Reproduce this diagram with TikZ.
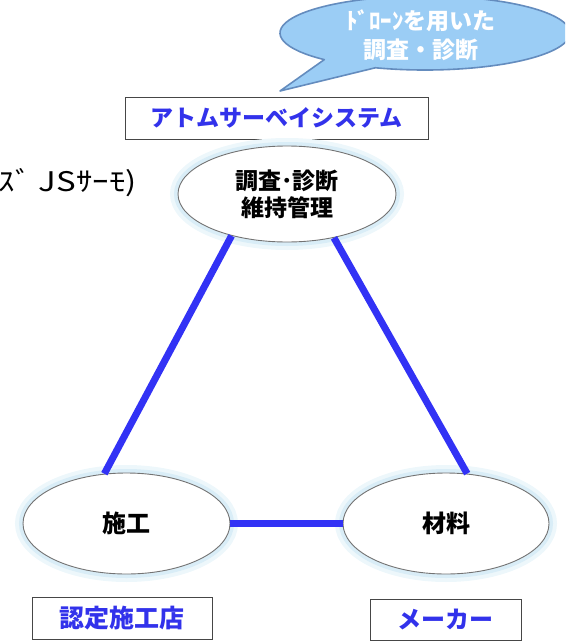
\documentclass[tikz,border=0pt]{standalone}
\usepackage{fontspec}
\newfontfamily\jp{Noto Sans CJK JP}
\newfontfamily\jpwide{Noto Sans CJK JP}[FakeStretch=1.22]
\usetikzlibrary{shapes.geometric}
\definecolor{lineblue}{RGB}{50,50,245}
\definecolor{textblue}{RGB}{50,50,235}
\definecolor{ovalgray}{RGB}{115,115,115}
\definecolor{boxgray}{RGB}{70,70,70}
\definecolor{glow}{RGB}{185,222,240}
\definecolor{bubblefill}{RGB}{155,205,245}
\definecolor{bubbleline}{RGB}{100,140,190}
\begin{document}
\begin{tikzpicture}[x=1pt,y=1pt,
  oval/.style={ellipse, draw=ovalgray, line width=0.9pt, fill=white, inner sep=0pt,
    align=center, font=\jp\bfseries\fontsize{24}{27}\selectfont,
    preaction={draw=glow!25, line width=16pt},
    preaction={draw=glow!55, line width=8pt}},
  tagbox/.style={draw=boxgray, line width=0.9pt, fill=white, inner sep=0pt,
    text=textblue, font=\jp\bfseries\fontsize{24}{28}\selectfont},
  link/.style={draw=lineblue, line width=7pt},
  bubbletext/.style={text=white, align=center, font=\jp\bfseries\fontsize{23}{29}\selectfont}]
\useasboundingbox (0,0) rectangle (565,-642);
\clip (0,0) rectangle (565,-642);

% speech bubble
\coordinate (bA) at ({425+145*cos(226)},{-33+37*sin(226)});
\coordinate (bB) at ({425+145*cos(250)},{-33+37*sin(250)});
\coordinate (btip) at (280,-91);
\draw[fill=bubblefill, draw=bubbleline, line width=1.6pt, line join=round]
  (bA) -- (btip) -- (bB) arc[start angle=250, end angle=586, x radius=145, y radius=37] -- cycle;
\node[bubbletext] (bubble) at (421,-35.5) {ﾄﾞﾛｰﾝを用いた\\調査・診断};

% partly visible text at left
\node[anchor=east, inner sep=0pt, font=\jpwide\fontsize{27}{30}\selectfont] (clipped) at (137,-183) {ｽﾞ JSｻｰﾓ)};

% label boxes
\node[tagbox, minimum width=303pt, minimum height=42pt, font=\jp\bfseries\fontsize{23}{27}\selectfont] (atom) at (276.5,-118) {アトムサーベイシステム};
\node[tagbox, minimum width=180pt, minimum height=42pt, font=\jp\bfseries\fontsize{25}{28}\selectfont] (shop) at (122,-618) {認定施工店};
\node[tagbox, minimum width=151pt, minimum height=41pt] (maker) at (445.5,-619.5) {メーカー};

% ovals
\node[oval, minimum width=218pt, minimum height=96pt, font=\jp\bfseries\fontsize{23}{27}\selectfont] (T) at (287,-194) {調査･診断\\維持管理};
\node[oval, minimum width=207pt, minimum height=101pt] (L) at (126.5,-523.5) {施工};
\node[oval, minimum width=206pt, minimum height=101pt] (R) at (446,-523.5) {材料};

% connectors
\draw[link] (T.217) -- (L.114);
\draw[link] (T.317) -- (R.67);
\draw[link] (L) -- (R);
\end{tikzpicture}
\end{document}
